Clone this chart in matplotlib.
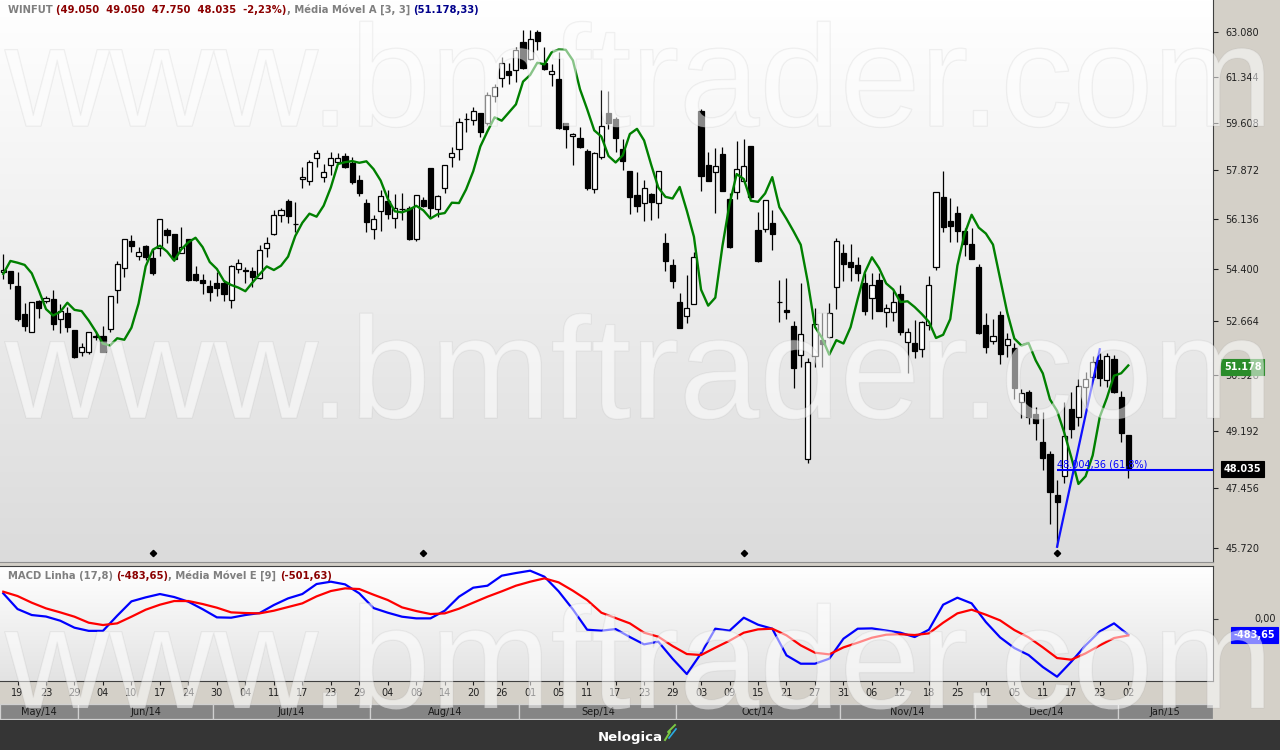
import numpy as np
import pandas as pd
import matplotlib
matplotlib.use('Agg')
import matplotlib.pyplot as plt
import matplotlib.patheffects as pe
import matplotlib.transforms as mtransforms
from matplotlib.patches import Rectangle
from matplotlib.lines import Line2D
from matplotlib.ticker import NullLocator, NullFormatter

######################################## Data #####################################################
# WINFUT daily candles, 15 May 2014 .. 02 Jan 2015
opens = [54300, 54345, 53840, 52905, 52325, 53335, 53325, 53405, 52730, 52940,
         52370, 51675, 51655, 52165, 52185, 52405, 53695, 54435, 55370, 54865,
         55190, 54775, 55120, 55750, 55605, 54950, 55440, 54245, 54040, 53840,
         53930, 53930, 53370, 54410, 54370, 54345, 54095, 55140, 55615, 56285,
         56770, 55960, 57545, 57495, 58300, 57615, 58050, 58180, 58385, 58140,
         57520, 56690, 55775, 56415, 56770, 56160, 56490, 56510, 55440, 56805,
         57940, 56475, 57220, 58340, 58630, 59740, 59710, 59960, 59590, 60625,
         61285, 61575, 61600, 62700, 62015, 63070, 61885, 61450, 61255, 59590,
         59120, 59035, 58570, 57185, 58360, 59960, 59750, 58630, 57840, 56985,
         56690, 57020, 56690, 55290, 54550, 53295, 52850, 53225, 60050, 58060,
         57815, 58450, 56830, 57080, 57480, 58750, 55750, 55775, 56005, 53315,
         53040, 52510, 51570, 48320, 51540, 52055, 52165, 53795, 54950, 54650,
         54550, 53930, 53445, 54040, 52980, 52980, 53570, 52000, 51950, 51765,
         52545, 54470, 56900, 56075, 56355, 55715, 55265, 54470, 52545, 52025,
         52875, 51895, 51785, 50090, 50385, 49695, 48855, 48475, 47260, 47820,
         49875, 49605, 50560, 50875, 51410, 50770, 51440, 50225, 49050]
highs = [54915, 54345, 54310, 53260, 53315, 53360, 53515, 53705, 53235, 53150,
         52370, 51950, 52325, 52350, 52510, 53505, 54685, 55430, 55580, 55175,
         55225, 55085, 56125, 55810, 55605, 55845, 55440, 54505, 54245, 54040,
         54320, 54040, 54550, 54740, 54490, 54490, 55235, 55500, 56450, 56510,
         56830, 56725, 57975, 58240, 58605, 58095, 58520, 58485, 58485, 58340,
         57700, 56840, 56275, 57160, 57160, 57020, 57055, 56595, 56985, 56920,
         57940, 56985, 58060, 58705, 59775, 59985, 60185, 59960, 60775, 61055,
         62115, 61860, 62505, 63160, 63160, 63160, 62505, 61820, 62310, 59590,
         59220, 59440, 58630, 58545, 60840, 60815, 59810, 58995, 57840, 57795,
         57520, 57065, 57840, 55635, 54740, 53595, 54210, 55005, 60110, 58520,
         58665, 58705, 57045, 58935, 59010, 58750, 56370, 56805, 56450, 54040,
         54120, 52675, 53930, 51465, 53095, 52930, 53260, 55465, 55255, 55255,
         54810, 54285, 54265, 54285, 53225, 53705, 53870, 52435, 52710, 52685,
         54175, 57080, 57840, 56865, 56595, 55810, 55830, 54580, 52930, 52730,
         53005, 52275, 51950, 50480, 50455, 49935, 49775, 48575, 47700, 50090,
         50400, 50795, 51035, 51550, 51625, 51625, 51570, 50425, 49050]
lows = [54065, 53730, 52685, 52360, 52325, 52785, 53270, 52380, 52295, 52325,
        51465, 51550, 51605, 52055, 51655, 52325, 53280, 54150, 54980, 54720,
        54720, 54210, 54855, 55310, 54695, 54950, 54015, 54015, 53585, 53335,
        53515, 53335, 53095, 54285, 53930, 53795, 54075, 54830, 55580, 56020,
        56005, 55695, 57220, 57340, 57995, 57455, 57700, 58130, 57940, 57365,
        56945, 55695, 55430, 55730, 56135, 55835, 56085, 55405, 55380, 56540,
        56215, 56215, 57065, 57995, 58240, 59275, 59525, 59070, 59525, 60395,
        60965, 61055, 61155, 61630, 61990, 62375, 61600, 60990, 59380, 58665,
        58060, 58665, 57160, 57065, 58265, 59365, 58545, 57880, 56310, 56390,
        56075, 56100, 56180, 54355, 53760, 52435, 52620, 53225, 57135, 57495,
        56335, 57135, 55140, 56840, 57480, 56875, 54660, 55695, 55060, 52655,
        52740, 50530, 51195, 48200, 51195, 51195, 52110, 53070, 54015, 54015,
        54015, 52875, 52730, 52990, 52490, 52685, 52220, 50985, 51465, 51495,
        52380, 54380, 55695, 55345, 55345, 54855, 54750, 52250, 51645, 51915,
        51270, 51515, 50175, 49575, 49390, 48905, 48000, 46410, 45755, 47605,
        48960, 49345, 49935, 50770, 50590, 50560, 50350, 48855, 47750]
closes = [54380, 53930, 52750, 52520, 53295, 53115, 53425, 52585, 52995, 52490,
          51495, 51820, 52325, 52185, 51675, 53505, 54570, 55430, 55210, 54980,
          54830, 54285, 56125, 55570, 54750, 55155, 54040, 54040, 53930, 53645,
          53780, 53560, 54515, 54625, 54355, 54150, 55060, 55290, 56265, 56450,
          56250, 55950, 57615, 58180, 58485, 57815, 58300, 58300, 57975, 57455,
          57065, 56020, 56125, 56960, 56300, 56535, 56480, 55440, 56985, 56605,
          56535, 56945, 58060, 58485, 59650, 59730, 60050, 59275, 60650, 60965,
          61860, 61410, 62375, 61670, 62795, 62725, 61630, 61565, 59405, 59380,
          59190, 58725, 57240, 58485, 59500, 59590, 59055, 58215, 56920, 56605,
          57220, 56745, 57840, 54695, 54015, 52435, 53095, 54810, 57675, 57495,
          58025, 57135, 55175, 57905, 58035, 56920, 54695, 56805, 55605, 53310,
          52960, 51165, 52240, 51335, 52570, 51915, 52930, 55370, 54570, 54490,
          54265, 53015, 53870, 53015, 53095, 53295, 52325, 52325, 51710, 52635,
          53870, 57080, 55870, 55900, 55730, 55255, 54750, 52275, 51840, 52185,
          51595, 52080, 50510, 50350, 49625, 49440, 48350, 47355, 47045, 49030,
          49235, 50590, 50795, 51335, 50825, 51540, 50385, 49130, 48035]

# Média Móvel A [3, 3]: the first five points need closes from before the window
ma_head = [54245, 54685, 54625, 54550, 54265]
ma_last = 51178.33

# MACD (17,8) and its 9-period signal, read every second session
macd_line = [760, 290, 110, 65, -60, -270, -365, -365, 90, 520,
             640, 740, 650, 510, 285, 40, 30, 110, 170, 410,
             610, 740, 1040, 1110, 1030, 760, 320, 180, 60, 10,
             10, 240, 660, 930, 990, 1290, 1370, 1440, 1260, 820,
             280, -330, -360, -310, -550, -770, -690, -1200, -1660, -1040,
             -300, -360, 30, -180, -300, -1100, -1350, -1350, -1200, -600,
             -300, -290, -355, -420, -550, -330, 420, 630, 460, -100,
             -560, -880, -1090, -1450, -1740, -1290, -800, -380, -140, -483.65]
macd_signal = [810, 680, 480, 310, 190, 60, -120, -190, -140, 60,
               270, 420, 530, 530, 440, 330, 190, 170, 160, 240,
               350, 460, 670, 830, 910, 890, 720, 560, 340, 230,
               140, 160, 300, 480, 660, 820, 990, 1110, 1210, 1090,
               840, 560, 180, 20, -140, -420, -540, -820, -1060, -1090,
               -870, -660, -420, -320, -300, -500, -800, -1020, -1070, -860,
               -720, -570, -480, -465, -490, -440, -120, 160, 270, 120,
               -50, -340, -560, -860, -1180, -1230, -1040, -800, -580, -501.63]
macd_step = 2

price_ticks = [63080, 61344, 59608, 57872, 56136, 54400, 52664, 50928, 49192, 47456, 45720]
date_labels = ['19', '23', '29', '04', '10', '17', '24', '30', '04', '11', '17', '23', '29', '04',
               '08', '14', '20', '26', '01', '05', '11', '17', '23', '29', '03', '09', '15', '21',
               '27', '31', '06', '12', '18', '25', '01', '05', '11', '17', '23', '02']
date_first, date_step = 2, 4
month_labels = ['May/14', 'Jun/14', 'Jul/14', 'Aug/14', 'Sep/14', 'Oct/14', 'Nov/14', 'Dec/14', 'Jan/15']
month_start = [0, 12, 31, 53, 74, 96, 119, 138, 158]
expiry_idx = [21, 59, 104, 148]

# drawn retracement: swing from the 17 Dec low to the 23 Dec high
fib_from, fib_to = 148, 154
fib_low, fib_high = 45755, 51755
fib_level = 48004.36
fib_text = '48.004,36 (61,8%)'
#################################### End of data ##################################################

W, H = 1280, 750
AX_RIGHT = 1213
XL, XR = -0.46, 169.9
AXIS_BG = '#d4d0c8'

plt.rcParams['font.family'] = 'DejaVu Sans'


def fx(px):
    return px / W


def fy(py):
    return 1 - py / H


def br_int(v):
    return f'{v:,.0f}'.replace(',', '.')


def br_dec(v):
    return f'{v:,.2f}'.replace(',', 'X').replace('.', ',').replace('X', '.')


def gradient_bg(rect, top, bottom):
    bg = fig.add_axes(rect, zorder=0)
    g = np.linspace(0, 1, 256)[:, None, None]
    img = np.array(top)[None, None, :] * (1 - g) + np.array(bottom)[None, None, :] * g
    bg.imshow(img, aspect='auto', extent=[0, 1, 0, 1])
    bg.set_axis_off()
    return bg


def value_box(axis, y, txt, color, x, ha):
    tr = mtransforms.blended_transform_factory(axis.transAxes, axis.transData)
    axis.text(x, y, txt, transform=tr, ha=ha, va='center', color='white', fontsize=7,
              fontweight='bold', clip_on=False, zorder=8,
              bbox=dict(boxstyle='square,pad=0.28', fc=color, ec=color, lw=0.8))


def chain_title(axis, x, y, pieces):
    t = fig.text(x, y, pieces[0][0], color=pieces[0][1], fontsize=7.2, fontweight='bold',
                 va='bottom', ha='left', zorder=9)
    for s, col in pieces[1:]:
        t = axis.annotate(s, xy=(1, 0), xycoords=t, va='bottom', ha='left', color=col,
                          fontsize=7.2, fontweight='bold', annotation_clip=False, zorder=9)


fig = plt.figure(figsize=(W / 100, H / 100), dpi=100, facecolor=AXIS_BG)

main_rect = [0, fy(562), fx(AX_RIGHT), 562 / H]
macd_rect = [0, fy(681), fx(AX_RIGHT), (681 - 566) / H]
month_rect = [0, fy(720), fx(AX_RIGHT), (720 - 703) / H]

# ---------------- price panel ----------------
gradient_bg(main_rect, (1.0, 1.0, 1.0), (0.86, 0.86, 0.86))
ax = fig.add_axes(main_rect, zorder=1)
ax.patch.set_alpha(0)

o = np.array(opens, float)
h = np.array(highs, float)
l = np.array(lows, float)
c = np.array(closes, float)
idx = np.arange(len(c))
up = c >= o
body_lo = np.minimum(o, c)
body_h = np.abs(c - o)

ax.vlines(idx, l, h, color='black', lw=0.9, zorder=2)
ax.bar(idx[up], body_h[up], bottom=body_lo[up], width=0.72, color='white',
       edgecolor='black', lw=0.9, zorder=3)
ax.bar(idx[~up], body_h[~up], bottom=body_lo[~up], width=0.72, color='black',
       edgecolor='black', lw=0.9, zorder=3)

ma = pd.Series(closes, dtype=float).rolling(3).mean().shift(3)
ma.iloc[:len(ma_head)] = ma_head
ax.plot(idx, ma, color='#008000', lw=1.7, zorder=4)

ax.plot([fib_from, fib_to], [fib_low, fib_high], color='#1010ff', lw=1.6, zorder=5)
ax.hlines(fib_level, fib_from, XR, color='#0000ff', lw=1.5, zorder=5)
ax.annotate(fib_text, xy=(fib_from, fib_level), xytext=(0, 0.5), textcoords='offset points',
            color='#0000ff', fontsize=7, va='bottom', ha='left', zorder=6)

tr_marks = mtransforms.blended_transform_factory(ax.transData, ax.transAxes)
ax.plot(expiry_idx, [0.016] * len(expiry_idx), 'D', ms=3.2, color='black',
        transform=tr_marks, clip_on=False, zorder=6)

ax.set_xlim(XL, XR)
ax.set_yscale('log')
ax.set_ylim(45322, 64352)
ax.yaxis.tick_right()
ax.set_yticks(price_ticks)
ax.set_yticklabels([br_int(v) for v in price_ticks])
ax.yaxis.set_minor_locator(NullLocator())
ax.yaxis.set_minor_formatter(NullFormatter())
ax.tick_params(axis='y', direction='out', length=3.6, width=0.8, pad=5.5, labelsize=7,
               colors='#202020')
ax.set_xticks([])
for s in ['top', 'left']:
    ax.spines[s].set_visible(False)
ax.spines['right'].set_color('#404040')
ax.spines['bottom'].set_color('#909090')

value_box(ax, ma_last, br_int(ma_last), '#2a8c2a', 1224 / AX_RIGHT, 'left')
value_box(ax, closes[-1], br_int(closes[-1]), 'black', 1224 / AX_RIGHT, 'left')

change = (closes[-1] / closes[-2] - 1) * 100
chain_title(ax, fx(8), fy(15), [
    ('WINFUT ', '#7f7f7f'),
    ('(' + '  '.join(br_int(v) for v in [opens[-1], highs[-1], lows[-1], closes[-1]])
     + f'  {change:.2f}%)'.replace('.', ','), '#8b0000'),
    (', Média Móvel A [3, 3] ', '#7f7f7f'),
    ('(' + br_dec(ma_last) + ')', '#00008b'),
])

# ---------------- MACD panel ----------------
gradient_bg(macd_rect, (1.0, 1.0, 1.0), (0.89, 0.89, 0.89))
axm = fig.add_axes(macd_rect, zorder=1)
axm.patch.set_alpha(0)
macd_idx = np.arange(len(macd_line)) * macd_step
axm.plot(macd_idx, macd_line, color='#0000ff', lw=1.6, zorder=3)
axm.plot(macd_idx, macd_signal, color='#ff0000', lw=1.6, zorder=4)
axm.set_xlim(XL, XR)
axm.set_ylim(-1869, 1581)
axm.yaxis.tick_right()
axm.set_yticks([0])
axm.set_yticklabels([''])
axm.tick_params(axis='y', direction='out', length=3.6, width=0.8, colors='#404040')
axm.set_xticks(np.arange(len(date_labels)) * date_step + date_first)
axm.set_xticklabels(date_labels)
axm.tick_params(axis='x', direction='out', length=3, width=0.8, pad=2, labelsize=7,
                colors='#202020')
axm.spines['left'].set_visible(False)
for s in ['top', 'bottom', 'right']:
    axm.spines[s].set_color('#404040')
tr_m = mtransforms.blended_transform_factory(axm.transAxes, axm.transData)
axm.text(1276 / AX_RIGHT, 0, '0,00', transform=tr_m, ha='right', va='center', fontsize=7,
         color='#202020', clip_on=False)
value_box(axm, macd_line[-1], br_dec(macd_line[-1]), '#0000ff', 1275 / AX_RIGHT, 'right')

chain_title(axm, fx(8), fy(581), [
    ('MACD Linha (17,8) ', '#7f7f7f'),
    ('(' + br_dec(macd_line[-1]) + ')', '#8b0000'),
    (', Média Móvel E [9] ', '#7f7f7f'),
    ('(' + br_dec(macd_signal[-1]) + ')', '#8b0000'),
])

# ---------------- month strip ----------------
axmo = fig.add_axes(month_rect, zorder=1)
axmo.set_xlim(XL, XR)
axmo.set_ylim(0, 1)
axmo.set_axis_off()
edges = [max(s - 1.5, XL) for s in month_start] + [XR]
for k, name in enumerate(month_labels):
    a, b = edges[k], edges[k + 1]
    axmo.add_patch(Rectangle((a, 0.04), b - a, 0.92, facecolor='#858585',
                             edgecolor='#d0d0d0', lw=0.9))
    axmo.text((a + b) / 2, 0.48, name, ha='center', va='center', fontsize=7, color='#1a1a1a')

# ---------------- bottom bar ----------------
fig.add_artist(Rectangle((0, 0), 1, 30 / H, transform=fig.transFigure,
                         facecolor='#353535', edgecolor='none', zorder=2))
fig.text(fx(630), fy(737), 'Nelogica', color='white', fontsize=9.5, fontweight='bold',
         ha='center', va='center', zorder=3)
fig.add_artist(Line2D([fx(665), fx(670), fx(668), fx(675)], [fy(740), fy(732), fy(732), fy(725)],
                      transform=fig.transFigure, color='#7ac943', lw=1.4, zorder=3))
fig.add_artist(Line2D([fx(669), fx(676)], [fy(738), fy(729)],
                      transform=fig.transFigure, color='#29abe2', lw=1.2, zorder=3))

# ---------------- watermark ----------------
for base in [126, 418, 708]:
    fig.text(fx(5), fy(base), 'www.bmftrader.com', fontsize=104, family='Liberation Sans',
             color=(1, 1, 1, 0.32), va='baseline', ha='left', zorder=20,
             path_effects=[pe.withStroke(linewidth=1.0, foreground=(0.6, 0.6, 0.6, 0.14))])

fig.savefig('out.png', dpi=100, facecolor=fig.get_facecolor())
